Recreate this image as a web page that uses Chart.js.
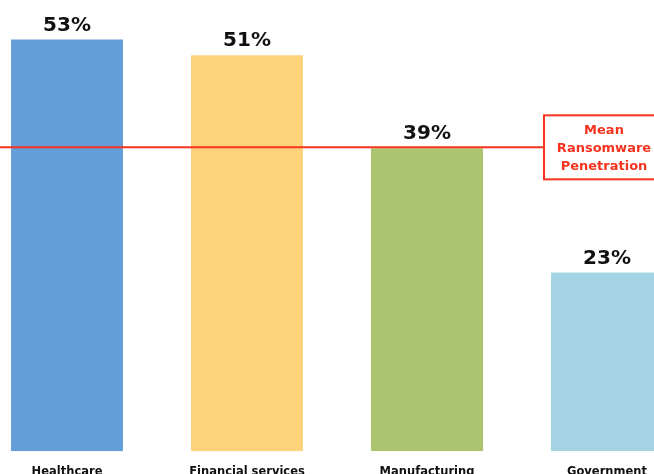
<!DOCTYPE html>
<html>
<head>
<meta charset="utf-8">
<script src="https://cdn.jsdelivr.net/npm/chart.js@4/dist/chart.umd.min.js"></script>
<style>
  html, body { margin:0; padding:0; background:#fff; overflow:hidden; width:654px; height:474px; }
  #wrap { position:absolute; left:-23px; top:0; width:720px; height:493px; }
</style>
</head>
<body>
<div id="wrap"><canvas id="c" width="720" height="493"></canvas></div>
<script>
const categories = ["Healthcare", "Financial services", "Manufacturing", "Government"];
const penetration = [53, 51, 39, 23];
const meanPenetration = 39;
const barColors = ["#659ddb", "#fdd27b", "#abc46f", "#a4d4e3"];
const meanLabel = ["Mean", "Ransomware", "Penetration"];

const valueLabels = {
  id: "valueLabels",
  afterDatasetsDraw(chart) {
    const ctx = chart.ctx;
    const meta = chart.getDatasetMeta(0);
    ctx.save();
    ctx.font = "bold 20px 'DejaVu Sans'";
    ctx.fillStyle = "#111";
    ctx.textAlign = "center";
    ctx.textBaseline = "alphabetic";
    meta.data.forEach((bar, i) => {
      ctx.fillText(penetration[i] + "%", bar.x, bar.y - 9);
    });
    ctx.restore();
  }
};

const meanLine = {
  id: "meanLine",
  afterDatasetsDraw(chart) {
    const ctx = chart.ctx;
    const y = chart.scales.y.getPixelForValue(meanPenetration) - 1;
    const cx = chart.scales.x.getPixelForValue(3) - 3;
    const boxW = 120, boxH = 64;
    const boxL = cx - boxW / 2;
    ctx.save();
    ctx.strokeStyle = "#f5331f";
    ctx.lineWidth = 2;
    ctx.beginPath();
    ctx.moveTo(chart.chartArea.left, y);
    ctx.lineTo(boxL, y);
    ctx.stroke();
    ctx.fillStyle = "#ffffff";
    ctx.fillRect(boxL, y - boxH / 2, boxW, boxH);
    ctx.strokeRect(boxL, y - boxH / 2, boxW, boxH);
    ctx.fillStyle = "#f5331f";
    ctx.font = "bold 13px 'DejaVu Sans'";
    ctx.textAlign = "center";
    ctx.textBaseline = "middle";
    meanLabel.forEach((t, i) => {
      ctx.fillText(t, cx, y - 17 + i * 18);
    });
    ctx.restore();
  }
};

new Chart(document.getElementById("c"), {
  type: "bar",
  data: {
    labels: categories,
    datasets: [{
      data: penetration,
      backgroundColor: barColors,
      borderWidth: 0,
      categoryPercentage: 1,
      barPercentage: 0.622
    }]
  },
  options: {
    responsive: false,
    animation: false,
    layout: { padding: 0 },
    plugins: { legend: { display: false }, tooltip: { enabled: false } },
    scales: {
      x: {
        grid: { display: false, drawTicks: false },
        border: { display: false },
        ticks: {
          padding: 14,
          color: "#111",
          font: { family: "'DejaVu Sans'", size: 11.5, weight: "bold" }
        }
      },
      y: {
        display: false,
        min: 0,
        max: 58.1
      }
    }
  },
  plugins: [valueLabels, meanLine]
});
</script>
</body>
</html>
